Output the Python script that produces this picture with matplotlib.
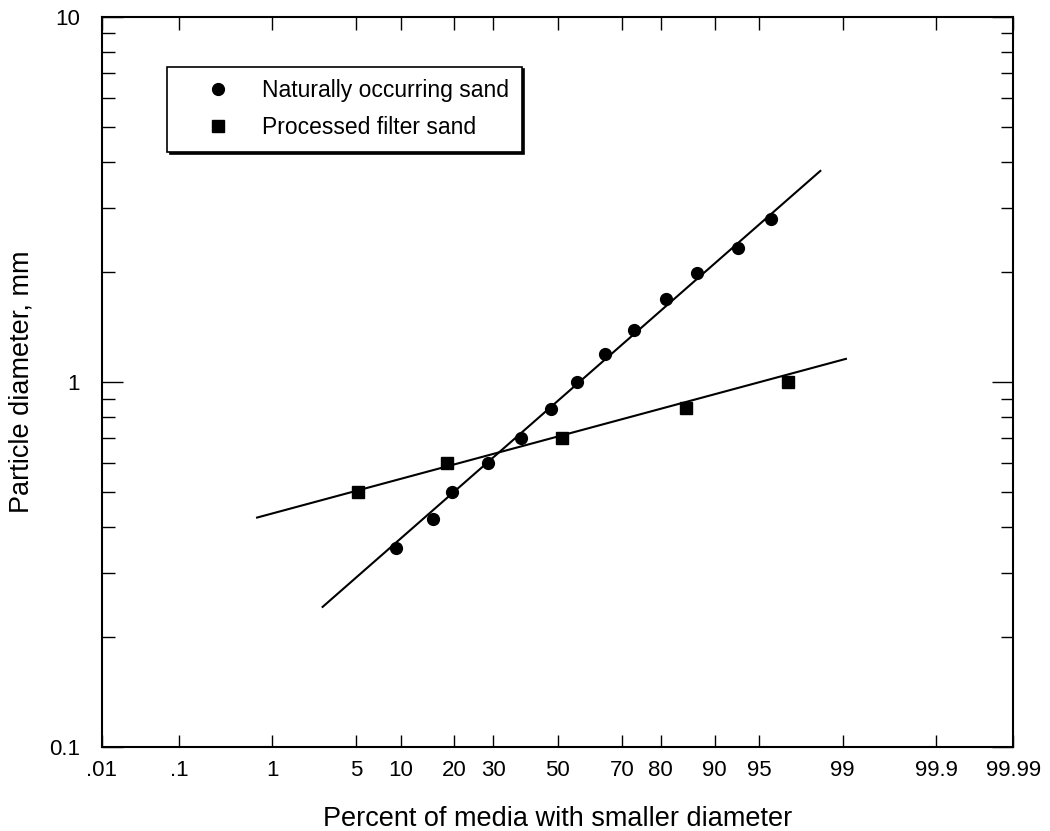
import numpy as np
import matplotlib
matplotlib.use("Agg")
import matplotlib.pyplot as plt
from matplotlib.ticker import FixedLocator, LogLocator, NullFormatter, NullLocator
from statistics import NormalDist

# data (percent smaller, diameter in mm)
natural_pct = [9.3, 15.4, 19.5, 28.6, 38.4, 48.0, 56.2, 65.0, 73.3, 81.1, 87.2, 93.0, 95.9]
natural_d = [0.35, 0.42, 0.50, 0.60, 0.70, 0.84, 1.00, 1.19, 1.39, 1.69, 1.99, 2.33, 2.79]

filter_pct = [5.2, 18.4, 51.3, 85.2, 97.0]
filter_d = [0.50, 0.60, 0.70, 0.85, 1.00]

# end points of the fitted straight lines
natural_fit_pct = [2.76, 98.4]
natural_fit_d = [0.242, 3.78]
filter_fit_pct = [0.71, 99.07]
filter_fit_d = [0.425, 1.156]

tick_pct = [0.01, 0.1, 1, 5, 10, 20, 30, 50, 70, 80, 90, 95, 99, 99.9, 99.99]
tick_text = [".01", ".1", "1", "5", "10", "20", "30", "50", "70", "80", "90", "95", "99", "99.9", "99.99"]

nd = NormalDist()
_ppf = np.vectorize(nd.inv_cdf, otypes=[float])
_cdf = np.vectorize(nd.cdf, otypes=[float])


# normal probability scale for the x axis
def forward(p):
    p = np.clip(np.asarray(p, dtype=float) / 100.0, 1e-9, 1 - 1e-9)
    return _ppf(p)


def inverse(z):
    return _cdf(np.asarray(z, dtype=float)) * 100.0


plt.rcParams["font.family"] = ["Liberation Sans", "DejaVu Sans"]

fig = plt.figure(figsize=(10.5, 8.31), dpi=100)
ax = fig.add_axes([0.097, 0.101, 0.868, 0.879])

ax.set_xscale("function", functions=(forward, inverse))
ax.set_yscale("log")
ax.set_xlim(0.01, 99.99)
ax.set_ylim(0.1, 10)

# fitted lines
ax.plot(natural_fit_pct, natural_fit_d, color="black", lw=1.5)
ax.plot(filter_fit_pct, filter_fit_d, color="black", lw=1.5)

# data points
ax.plot(natural_pct, natural_d, "o", color="black", ms=8.5, ls="none",
        label="Naturally occurring sand")
ax.plot(filter_pct, filter_d, "s", color="black", ms=8.5, ls="none",
        label="Processed filter sand")

# x ticks
ax.xaxis.set_major_locator(FixedLocator(tick_pct))
ax.set_xticklabels(tick_text)
ax.xaxis.set_minor_locator(NullLocator())
ax.tick_params(axis="x", which="major", direction="in", top=True, length=9,
               width=1, pad=9, labelsize=16)

# y ticks
ax.yaxis.set_major_locator(FixedLocator([0.1, 1, 10]))
ax.set_yticklabels(["0.1", "1", "10"])
ax.yaxis.set_minor_locator(LogLocator(base=10, subs=np.arange(2, 10)))
ax.yaxis.set_minor_formatter(NullFormatter())
ax.tick_params(axis="y", which="major", direction="in", right=True, length=15,
               width=1, pad=16, labelsize=16)
ax.tick_params(axis="y", which="minor", direction="in", right=True, length=9, width=1)

for s in ax.spines.values():
    s.set_linewidth(1.5)

ax.set_xlabel("Percent of media with smaller diameter", fontsize=19.5, labelpad=18)
ax.set_ylabel("Particle diameter, mm", fontsize=19.5, labelpad=10)

leg = ax.legend(loc="upper left", bbox_to_anchor=(0.0714, 0.9315), borderaxespad=0,
                fancybox=False, edgecolor="black", framealpha=1, fontsize=16.5,
                borderpad=0.55, handletextpad=0.2, labelspacing=0.6, handlelength=3.4,
                shadow={"color": "black", "alpha": 1})
leg.get_frame().set_linewidth(1.2)

plt.savefig("out.png", dpi=100)
